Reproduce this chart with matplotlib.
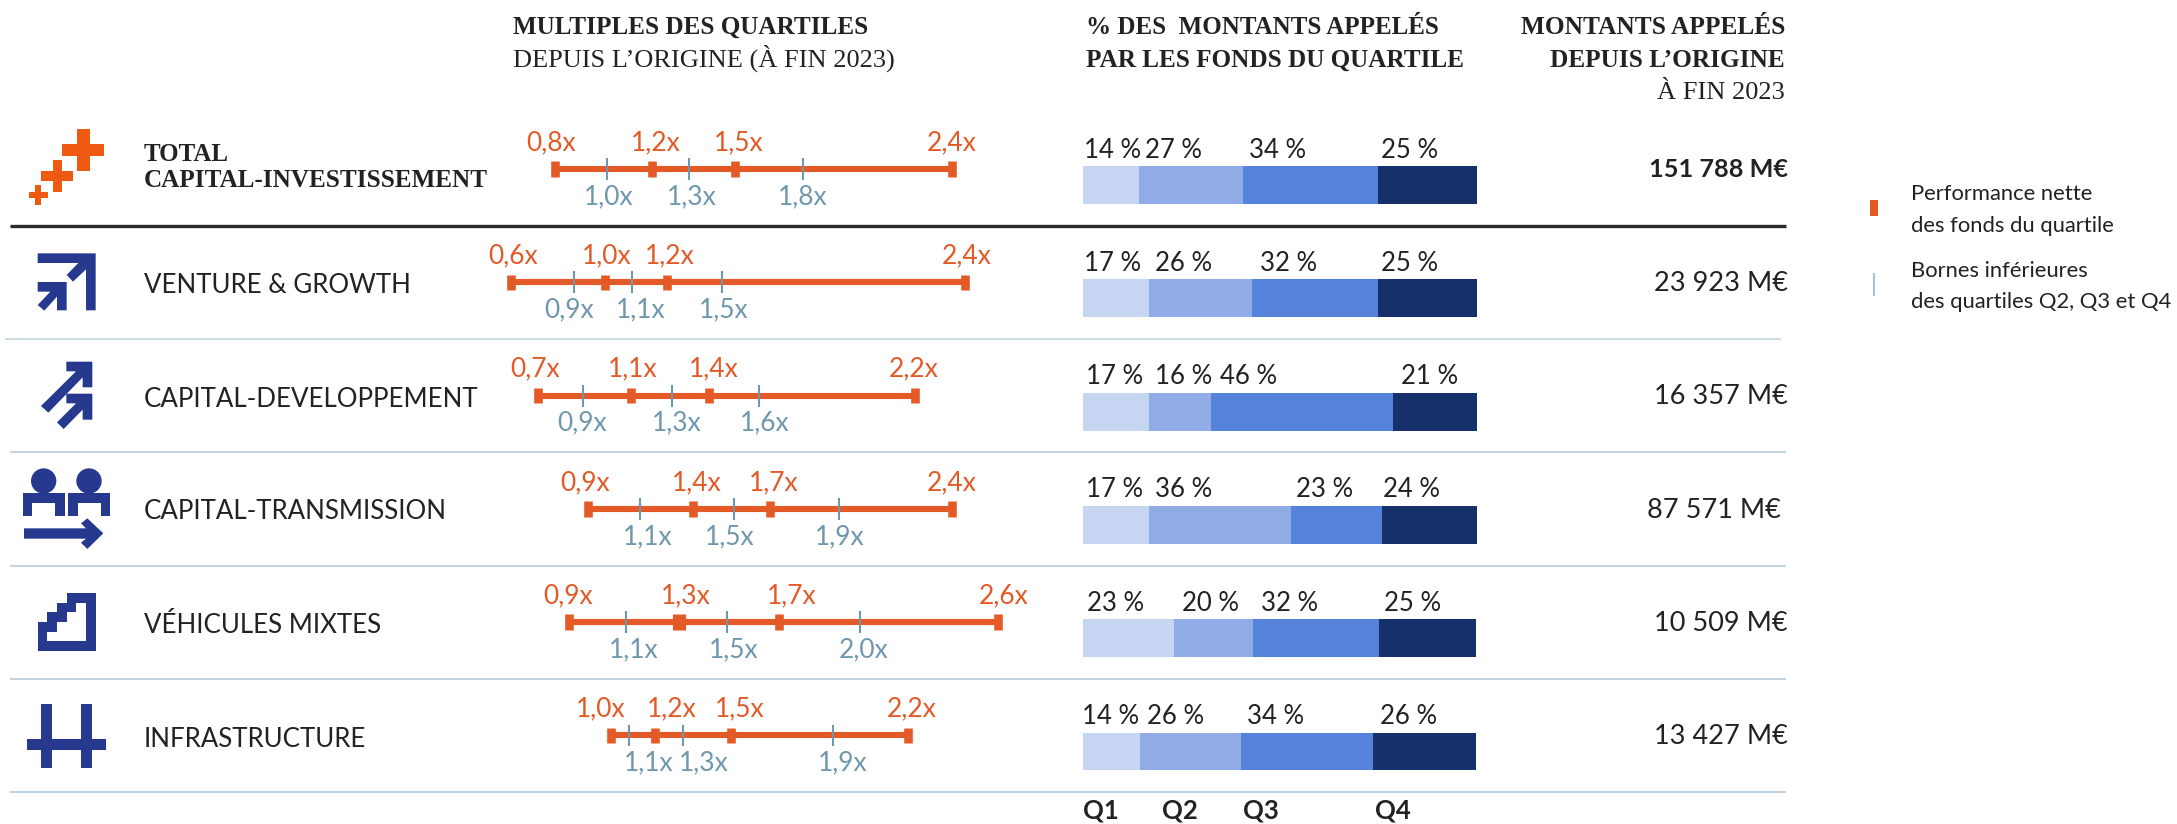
import matplotlib
matplotlib.use('Agg')
import matplotlib.pyplot as plt
from matplotlib.patches import Polygon, Circle

W, H = 2177, 824

# data
rows = ['VENTURE & GROWTH', 'CAPITAL-DEVELOPPEMENT', 'CAPITAL-TRANSMISSION', 'VÉHICULES MIXTES', 'INFRASTRUCTURE']
perf = [
    [0.80, 1.19, 1.525, 2.40],
    [0.62, 1.00, 1.25, 2.45],
    [0.73, 1.105, 1.42, 2.25],
    [0.93, 1.355, 1.665, 2.40],
    [0.855, 1.30, 1.70, 2.585],
    [1.025, 1.20, 1.51, 2.22],
]
bounds = [
    [1.01, 1.34, 1.80],
    [0.875, 1.11, 1.47],
    [0.91, 1.27, 1.62],
    [1.14, 1.52, 1.945],
    [1.085, 1.49, 2.03],
    [1.095, 1.315, 1.92],
]
perf_labels = [
    ['0,8x', '1,2x', '1,5x', '2,4x'],
    ['0,6x', '1,0x', '1,2x', '2,4x'],
    ['0,7x', '1,1x', '1,4x', '2,2x'],
    ['0,9x', '1,4x', '1,7x', '2,4x'],
    ['0,9x', '1,3x', '1,7x', '2,6x'],
    ['1,0x', '1,2x', '1,5x', '2,2x'],
]
bound_labels = [
    ['1,0x', '1,3x', '1,8x'],
    ['0,9x', '1,1x', '1,5x'],
    ['0,9x', '1,3x', '1,6x'],
    ['1,1x', '1,5x', '1,9x'],
    ['1,1x', '1,5x', '2,0x'],
    ['1,1x', '1,3x', '1,9x'],
]
q1 = [14.2, 16.8, 16.8, 16.7, 23.1, 14.4]
q2 = [26.5, 26.1, 15.7, 36.0, 20.1, 25.7]
q3 = [34.1, 31.9, 46.2, 23.2, 32.0, 33.6]
q4 = [25.2, 25.2, 21.3, 24.1, 24.6, 26.1]
pct_labels = [
    ['14 %', '27 %', '34 %', '25 %'],
    ['17 %', '26 %', '32 %', '25 %'],
    ['17 %', '16 %', '46 %', '21 %'],
    ['17 %', '36 %', '23 %', '24 %'],
    ['23 %', '20 %', '32 %', '25 %'],
    ['14 %', '26 %', '34 %', '26 %'],
]
amounts = ['151 788 M€', '23 923 M€', '16 357 M€', '87 571 M€', '10 509 M€', '13 427 M€']

# label layout, in pixels
perf_x = [[526, 631, 714, 927], [488, 582, 645, 942], [510, 608, 689, 889],
          [560, 672, 749, 927], [543, 661, 767, 979], [576, 647, 715, 887]]
bound_x = [[584, 667, 778], [544, 616, 699], [557, 652, 740],
           [623, 705, 815], [609, 709, 839], [624, 679, 818]]
pct_x = [[1084, 1145, 1249, 1381], [1084, 1155, 1260, 1381], [1086, 1155, 1220, 1401],
         [1086, 1155, 1296, 1383], [1087, 1182, 1261, 1384], [1082, 1147, 1247, 1380]]
amount_x = [1788, 1788, 1788, 1781, 1788, 1788]
amount_y = [177, 291, 404, 518, 631, 744]
row_y = [293, 407, 519, 633, 747]

ORANGE = '#E45A27'
BLUEGREY = '#6F97AE'
INK = '#222222'
NAVY = '#26398F'
COLORS = ['#C6D5F2', '#8FACE6', '#5582DB', '#163069']
SANS = 'Lato'
SERIF = 'Liberation Serif'

fig = plt.figure(figsize=(W / 100, H / 100), dpi=100)


def px_axes(left, top, right, bottom):
    ax = fig.add_axes([left / W, 1 - bottom / H, (right - left) / W, (bottom - top) / H])
    ax.axis('off')
    return ax


bg = px_axes(0, 0, W, H)
bg.set_xlim(0, W)
bg.set_ylim(H, 0)


def txt(x, y, s, size=18, family=SANS, weight='normal', color=INK, ha='left'):
    bg.text(x, y, s, fontsize=size, family=family, weight=weight, color=color, ha=ha, va='baseline')


def poly(pts, ox, oy, color=NAVY):
    bg.add_patch(Polygon([(ox + x / 3, oy + y / 3) for x, y in pts], closed=True, fc=color, ec='none'))


def box(x0, x1, y0, y1, ox, oy, color=NAVY):
    poly([(x0, y0), (x1, y0), (x1, y1), (x0, y1)], ox, oy, color)


# headers
txt(513, 34, 'MULTIPLES DES QUARTILES', 18.1, SERIF, 'bold')
txt(513, 67, 'DEPUIS L’ORIGINE (À FIN 2023)', 19, SERIF)
txt(1086, 34, '% DES  MONTANTS APPELÉS', 18, SERIF, 'bold')
txt(1086, 67, 'PAR LES FONDS DU QUARTILE', 18.1, SERIF, 'bold')
txt(1785, 34, 'MONTANTS APPELÉS', 18.3, SERIF, 'bold', ha='right')
txt(1785, 67, 'DEPUIS L’ORIGINE', 18.2, SERIF, 'bold', ha='right')
txt(1785, 99, 'À FIN 2023', 19, SERIF, ha='right')

# row names
txt(144, 161, 'TOTAL', 18, SERIF, 'bold')
txt(144, 187, 'CAPITAL-INVESTISSEMENT', 18.1, SERIF, 'bold')
for name, y in zip(rows, row_y):
    txt(144, y, name, 18.6)

# separators
bg.plot([10, 1786], [225.6, 225.6], color='#2B2B2B', lw=2.4, solid_capstyle='butt')
bg.plot([5, 1781], [339, 339], color='#CBDCE4', lw=1.5, solid_capstyle='butt')
for y in [452, 566, 679]:
    bg.plot([10, 1786], [y, y], color='#C3D6E0', lw=1.5, solid_capstyle='butt')
bg.plot([10, 1786], [792, 792], color='#A9C4D8', lw=1.1, solid_capstyle='butt')

# range chart
rng = px_axes(357, 112.35, 357 + 248 * 3, 792.15)
rng.set_xlim(0, 3)
rng.set_ylim(5.5, -0.5)
for i in range(6):
    rng.hlines(i, perf[i][0], perf[i][-1], color=ORANGE, lw=4.4)
    widths = [6.2, 9.5, 6.2, 6.2] if i == 4 else 6.2
    rng.vlines(perf[i], i - 0.068, i + 0.068, color=ORANGE, lw=widths)
    rng.vlines(bounds[i], i - 0.097, i + 0.097, color=BLUEGREY, lw=1.5)
    base = 169 + 113.3 * i
    for x, s in zip(perf_x[i], perf_labels[i]):
        txt(x, base - 19, s, 19, color=ORANGE)
    for x, s in zip(bound_x[i], bound_labels[i]):
        txt(x, base + 35, s, 19, color=BLUEGREY)

# stacked bars
bars = px_axes(1083, 128.35, 1477, 808.15)
bars.set_xlim(0, 100)
bars.set_ylim(5.5, -0.5)
ys = list(range(6))
left = [0] * 6
for vals, c in zip([q1, q2, q3, q4], COLORS):
    bars.barh(ys, vals, left=left, height=0.335, color=c, linewidth=0)
    left = [a + b for a, b in zip(left, vals)]
for i in range(6):
    base = 157.5 + 113.3 * i
    for x, s in zip(pct_x[i], pct_labels[i]):
        txt(x, base, s, 18.5)

# amounts
for i, s in enumerate(amounts):
    if i == 0:
        txt(amount_x[i], amount_y[i], s, 18.2, weight='bold', ha='right')
    else:
        txt(amount_x[i], amount_y[i], s, 19.5, ha='right')

for x, s in zip([1083, 1162, 1243, 1375], ['Q1', 'Q2', 'Q3', 'Q4']):
    txt(x, 819, s, 18.5, weight='bold')

# legend
bg.add_patch(Polygon([(1870, 200), (1878, 200), (1878, 216), (1870, 216)], fc=ORANGE, ec='none'))
bg.plot([1874, 1874], [273, 296], color='#A5C3D8', lw=1.5, solid_capstyle='butt')
txt(1911, 200, 'Performance nette', 15.8)
txt(1911, 232, 'des fonds du quartile', 15.8)
txt(1911, 277, 'Bornes inférieures', 15.8)
txt(1911, 308, 'des quartiles Q2, Q3 et Q4', 15.8)

# icons
OR = '#EE5A12'
for x0, x1, y0, y1 in [(231, 269, 58, 183), (187, 313, 101, 139), (158, 187, 150, 245),
                       (124, 220, 183, 212), (105, 124, 226, 284), (86, 144, 245, 264)]:
    box(x0, x1, y0, y1, 0, 110, OR)

poly([(113, 430), (287, 430), (287, 601), (258, 601), (258, 478), (219, 515), (200, 495), (235, 459), (113, 459)], 0, 110)
poly([(113, 516), (200, 516), (200, 601), (171, 601), (171, 560), (133, 602), (113, 585), (151, 545), (113, 545)], 0, 110)

poly([(199, 65), (277, 65), (277, 142), (248, 142), (248, 112), (145, 218), (123, 198), (228, 94), (199, 94)], 0, 340)
poly([(199, 161), (277, 161), (277, 239), (248, 239), (248, 209), (191, 267), (171, 247), (228, 190), (199, 190)], 0, 340)

for dx in [0, 136]:
    bg.add_patch(Circle(((131 + dx) / 3, 340 + 423 / 3), 38 / 3, fc=NAVY, ec='none'))
    poly([(68 + dx, 460), (195 + dx, 460), (195 + dx, 527), (166 + dx, 527), (166 + dx, 489),
          (97 + dx, 489), (97 + dx, 527), (68 + dx, 527)], 0, 340)
poly([(72, 565), (258, 565), (243, 550), (262, 535), (310, 580), (262, 627), (243, 608), (258, 596), (72, 596)], 0, 340)

poly([(200, 70), (287, 70), (287, 242), (113, 242), (113, 156), (142, 156), (142, 127), (171, 127), (171, 98), (200, 98)], 0, 570)
poly([(229, 98), (258, 98), (258, 213), (142, 213), (142, 185), (171, 185), (171, 156), (200, 156), (200, 127), (229, 127)], 0, 570, 'white')

for x0, x1, y0, y1 in [(124, 157, 402, 594), (242, 275, 402, 594), (80, 319, 508, 540)]:
    box(x0, x1, y0, y1, 0, 570)

fig.savefig('out.png', dpi=100)
